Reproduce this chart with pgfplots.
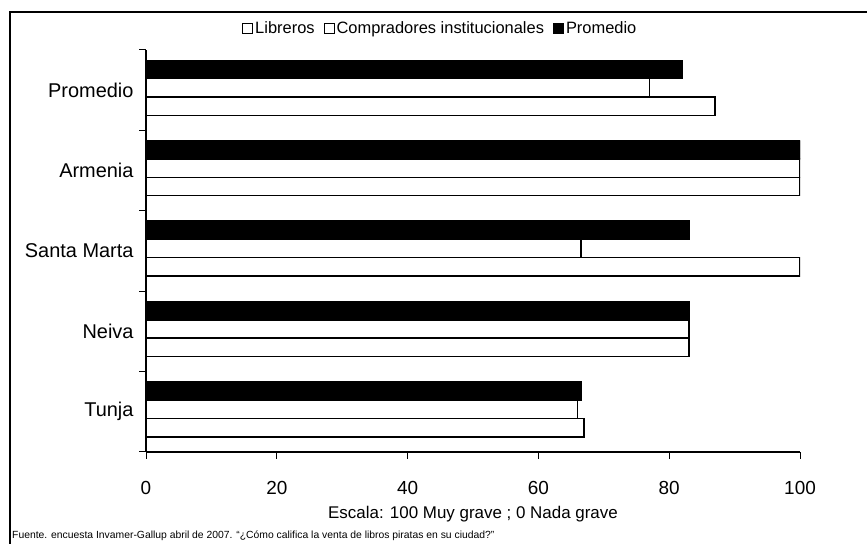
\documentclass[border=0pt]{standalone}
\usepackage{fontspec}
\setmainfont{Liberation Sans}
\usepackage{pgfplots}
\pgfplotsset{compat=1.18}

\begin{document}
\begin{tikzpicture}[x=1bp,y=1bp]
\useasboundingbox (0,0) rectangle (867,544);
% frame: top and left edges
\draw[line width=1.5bp] (10,0) -- (10,532) -- (867,532);

\begin{axis}[
  at={(146bp,92bp)}, anchor=south west,
  scale only axis, width=654bp, height=402bp,
  xbar, bar width=0.228,
  xmin=0, xmax=100, ymin=-0.5, ymax=4.5,
  axis x line*=bottom, axis y line*=left,
  axis line style={line width=1.2bp},
  tick align=outside, major tick length=7bp,
  tick style={line width=1bp, black},
  xtick={0,20,40,60,80,100},
  ytick={-0.5,0.5,1.5,2.5,3.5,4.5}, yticklabels={},
  extra y ticks={0,1,2,3,4},
  extra y tick labels={Tunja,Neiva,Santa Marta,Armenia,Promedio},
  extra y tick style={major tick length=0pt,
     yticklabel style={font=\fontsize{20}{24}\selectfont, xshift=-9bp}},
  /pgf/number format/assume math mode=true,
  xticklabel style={font=\fontsize{19}{22}\selectfont, yshift=-19bp},
  xlabel={Escala: 100 Muy grave ; 0 Nada grave},
  xlabel style={font=\fontsize{17}{20}\selectfont, yshift=-4bp},
  legend style={at={(0.45,1.053)}, anchor=center, draw=none,
     legend columns=-1, font=\fontsize{16.5}{19}\selectfont,
     /tikz/every even column/.append style={column sep=7bp}},
]
% Libreros (bottom bar of each group)
\addplot[draw=black, fill=white, line width=1.5bp, bar shift=-0.198,
  legend image code/.code={\draw[black, fill=white, line width=1bp] (0bp,-5bp) rectangle (10bp,5bp);}]
  coordinates {(67,0) (83,1) (100,2) (100,3) (87,4)};
\addlegendentry{Libreros}
% Compradores institucionales (middle bar)
\addplot[draw=black, fill=white, line width=1.5bp, bar shift=0.03,
  legend image code/.code={\draw[black, fill=white, line width=1bp] (0bp,-5bp) rectangle (10bp,5bp);}]
  coordinates {(66,0) (83,1) (66.5,2) (100,3) (77,4)};
\addlegendentry{Compradores institucionales}
% Promedio (top bar, solid black)
\addplot[draw=black, fill=black, line width=1.5bp, bar shift=0.258,
  legend image code/.code={\draw[black, fill=black, line width=1bp] (0bp,-5bp) rectangle (10bp,5bp);}]
  coordinates {(66.5,0) (83,1) (83,2) (100,3) (82,4)};
\addlegendentry{Promedio}
\end{axis}

\node[anchor=base west, inner sep=0pt, font=\fontsize{10.4}{12}\selectfont]
  at (12,5) {Fuente. encuesta Invamer-Gallup abril de 2007. “¿Cómo califica la venta de libros piratas en su ciudad?”};
\end{tikzpicture}
\end{document}
